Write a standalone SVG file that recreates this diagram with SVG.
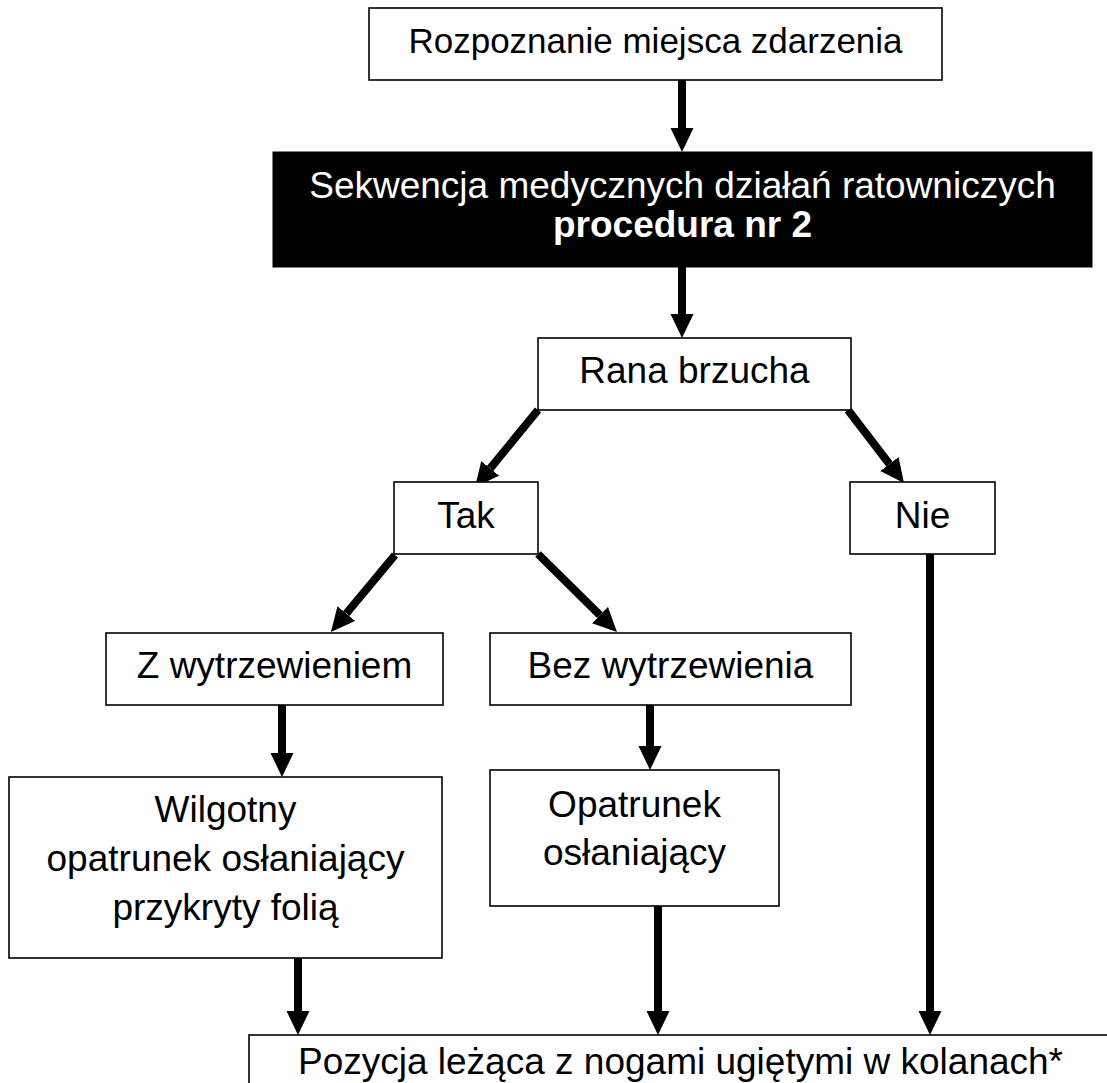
<svg xmlns="http://www.w3.org/2000/svg" width="1107" height="1083" viewBox="0 0 1107 1083">
<style>
.box{fill:#fff;stroke:#000;stroke-width:1.6}
.dark{fill:#000;stroke:#000;stroke-width:1}
.t{font-family:"Liberation Sans",Arial,sans-serif;font-size:37px;fill:#000;text-anchor:middle}
.w{fill:#fff}
.b{font-weight:bold}
.c{stroke:#000;stroke-width:8;fill:none;marker-end:url(#ah)}
</style>
<defs>
<marker id="ah" markerUnits="userSpaceOnUse" markerWidth="26" markerHeight="24" refX="0" refY="11.5" orient="auto" viewBox="0 0 26 23">
<path d="M0,0 L24,11.5 L0,23 Z" fill="#000"/>
</marker>
</defs>
<rect width="1107" height="1083" fill="#fff"/>
<g id="connectors">
<line class="c" x1="682" y1="80" x2="682" y2="128"/>
<line class="c" x1="682" y1="267" x2="682" y2="314"/>
<line class="c" x1="538" y1="410" x2="490.2" y2="468.4"/>
<line class="c" x1="848" y1="410" x2="889.4" y2="464"/>
<line class="c" x1="395" y1="555" x2="346.3" y2="613.5"/>
<line class="c" x1="538" y1="554" x2="599.9" y2="615.1"/>
<line class="c" x1="282" y1="705" x2="282" y2="753"/>
<line class="c" x1="650" y1="705" x2="650" y2="746"/>
<line class="c" x1="298" y1="958" x2="298" y2="1011"/>
<line class="c" x1="658" y1="906" x2="658" y2="1011"/>
<line class="c" x1="930" y1="554" x2="930" y2="1011"/>
</g>
<g id="n1"><rect class="box" x="369" y="8" width="573" height="72"/><text class="t" x="655.5" y="53" style="font-size:35px">Rozpoznanie miejsca zdarzenia</text></g>
<g id="n2"><rect class="dark" x="273" y="152" width="819" height="115"/><text class="t w" x="682.5" y="198">Sekwencja medycznych działań ratowniczych</text><text class="t w b" x="682.5" y="237">procedura nr 2</text></g>
<g id="n3"><rect class="box" x="538" y="338" width="313" height="72"/><text class="t" x="694.5" y="383">Rana brzucha</text></g>
<g id="n4"><rect class="box" x="394" y="482" width="144" height="72"/><text class="t" x="466" y="528">Tak</text></g>
<g id="n5"><rect class="box" x="850" y="482" width="145" height="72"/><text class="t" x="922.5" y="528">Nie</text></g>
<g id="n6"><rect class="box" x="106" y="633" width="337" height="72"/><text class="t" x="274.5" y="678">Z wytrzewieniem</text></g>
<g id="n7"><rect class="box" x="490" y="633" width="361" height="72"/><text class="t" x="670.5" y="678">Bez wytrzewienia</text></g>
<g id="n8"><rect class="box" x="9" y="777" width="433" height="181"/><text class="t" x="225.5" y="822">Wilgotny</text><text class="t" x="225.5" y="871">opatrunek osłaniający</text><text class="t" x="225.5" y="920">przykryty folią</text></g>
<g id="n9"><rect class="box" x="490" y="770" width="289" height="136"/><text class="t" x="634.5" y="817">Opatrunek</text><text class="t" x="634.5" y="865">osłaniający</text></g>
<g id="n10"><rect class="box" x="249" y="1035" width="864" height="80"/><text class="t" x="680.5" y="1074">Pozycja leżąca z nogami ugiętymi w kolanach*</text></g>
</svg>
